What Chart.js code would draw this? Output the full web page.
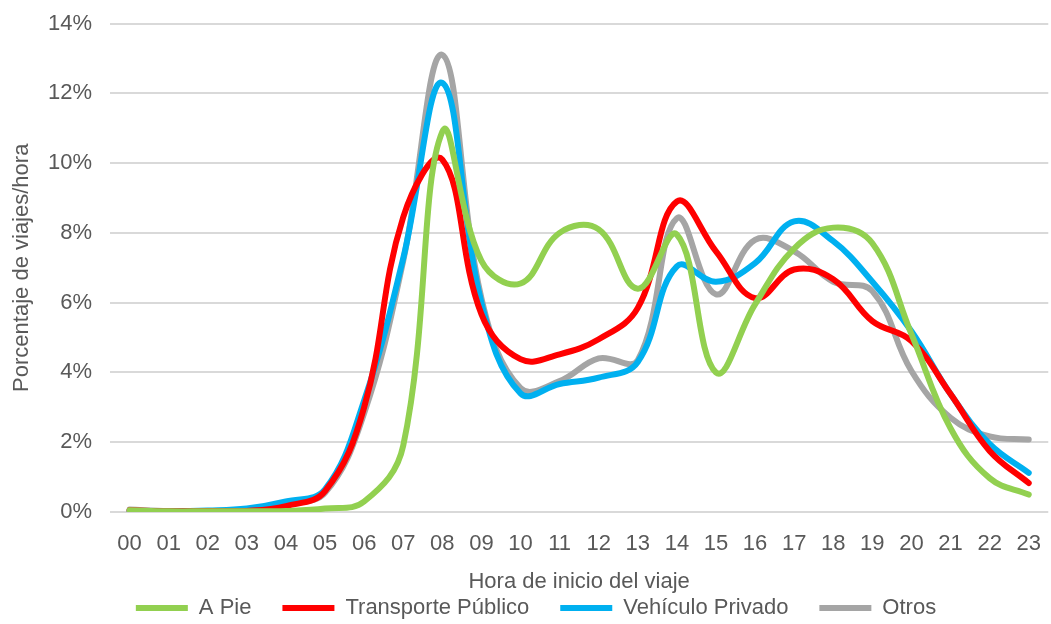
<!DOCTYPE html>
<html>
<head>
<meta charset="utf-8">
<script src="https://cdn.jsdelivr.net/npm/chart.js@4"></script>
<style>
  html, body { margin: 0; padding: 0; background: #fff; overflow: hidden; }
  #wrap { width: 1060px; height: 624px; position: relative; }
</style>
</head>
<body>
<div id="wrap"><canvas id="chart"></canvas></div>
<script>
// horas del dia
const hours = ["00","01","02","03","04","05","06","07","08","09","10","11",
               "12","13","14","15","16","17","18","19","20","21","22","23"];

// % de viajes por hora de inicio
const aPie = [0.05, 0.02, 0.02, 0.02, 0.03, 0.1, 0.3, 1.9, 10.9, 7.2, 6.55, 8.0,
              8.1, 6.4, 7.95, 4.0, 5.95, 7.55, 8.15, 7.7, 5.1, 2.4, 0.97, 0.5];
const transportePublico = [0.05, 0.02, 0.03, 0.03, 0.17, 0.6, 3.0, 8.45, 10.1, 5.67, 4.38, 4.52,
                           4.95, 5.85, 8.9, 7.47, 6.13, 6.95, 6.67, 5.47, 4.9, 3.38, 1.75, 0.83];
const vehiculoPrivado = [0.03, 0.02, 0.04, 0.1, 0.3, 0.65, 3.2, 7.27, 12.3, 6.0, 3.4, 3.67,
                         3.85, 4.3, 7.04, 6.6, 7.13, 8.33, 7.76, 6.6, 5.18, 3.38, 1.95, 1.12];
const otros = [0.07, 0.03, 0.03, 0.05, 0.25, 0.55, 2.83, 7.2, 13.1, 6.13, 3.55, 3.75,
               4.4, 4.35, 8.42, 6.24, 7.8, 7.47, 6.6, 6.33, 4.04, 2.7, 2.17, 2.08];

const yTicks = [0, 2, 4, 6, 8, 10, 12, 14];

const txt = "#595959";
const font = "'Liberation Sans', Arial, sans-serif";

function serie(label, data, color) {
  return {
    label: label,
    data: data,
    borderColor: color,
    backgroundColor: color,
    borderWidth: 6,
    borderCapStyle: "round",
    pointRadius: 0,
    pointHoverRadius: 0,
    tension: 0.4,
    fill: false,
  };
}

const ctx = document.getElementById("chart").getContext("2d");
new Chart(ctx, {
  type: "line",
  data: {
    labels: hours,
    datasets: [
      serie("A Pie", aPie, "#92D050"),
      serie("Transporte Público", transportePublico, "#FF0000"),
      serie("Vehículo Privado", vehiculoPrivado, "#00B0F0"),
      serie("Otros", otros, "#A5A5A5"),
    ],
  },
  options: {
    responsive: true,
    maintainAspectRatio: false,
    animation: false,
    layout: { padding: { top: 0, left: 14, right: 2, bottom: -5 } },
    plugins: {
      tooltip: { enabled: false },
      legend: {
        position: "bottom",
        labels: {
          color: txt,
          font: { family: font, size: 22 },
          usePointStyle: true,
          pointStyle: "line",
          pointStyleWidth: 52,
          padding: 31,
        },
      },
    },
    scales: {
      x: {
        offset: true,
        grid: { display: false, drawTicks: false },
        border: { display: false },
        ticks: { color: txt, font: { family: font, size: 22 }, padding: 19, maxRotation: 0, autoSkip: false },
        title: {
          display: true,
          text: "Hora de inicio del viaje",
          color: txt,
          font: { family: font, size: 22 },
          padding: { top: -7.6, bottom: -29.2 },
        },
      },
      y: {
        min: 0,
        max: 14,
        afterBuildTicks: (axis) => {
          axis.ticks = yTicks.map((v) => ({ value: v }));
        },
        grid: { color: "#D9D9D9", lineWidth: 2, drawTicks: false },
        border: { display: false },
        ticks: {
          color: txt,
          font: { family: font, size: 22, lineHeight: 0.5 },
          padding: 18,
          callback: (v) => v + "%",
        },
        title: {
          display: true,
          text: "Porcentaje de viajes/hora",
          color: txt,
          font: { family: font, size: 22 },
          padding: { top: -5, bottom: -5.4 },
        },
      },
    },
  },
});
</script>
</body>
</html>
